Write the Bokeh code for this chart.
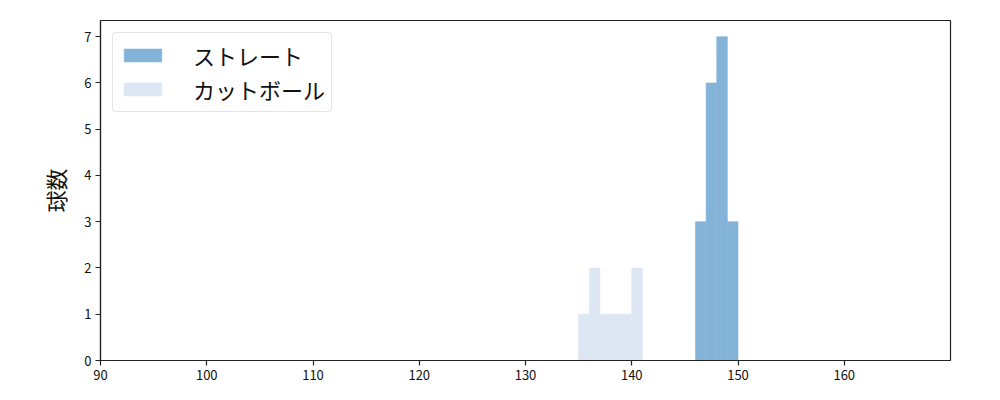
from bokeh.plotting import figure
from bokeh.models import Range1d, FixedTicker, Legend, LegendItem
from bokeh.embed import file_html
from bokeh.resources import INLINE

# data
straight_left = [146, 147, 148, 149]
straight_counts = [3, 6, 7, 3]
cutter_left = [135, 136, 137, 138, 139, 140]
cutter_counts = [1, 2, 1, 1, 1, 2]
bin_width = 1
x_ticks = [90, 100, 110, 120, 130, 140, 150, 160]
y_ticks = [0, 1, 2, 3, 4, 5, 6, 7]
series_names = ["ストレート", "カットボール"]
y_label = "球数"

FONT = "Noto Sans CJK JP"
C_STRAIGHT = "#84b3d8"
C_CUTTER = "#dce7f3"

p = figure(width=1000, height=400, output_backend="svg", toolbar_location=None,
           x_range=Range1d(90, 170), y_range=Range1d(0, 7.35),
           min_border_left=100, min_border_right=50, min_border_top=20, min_border_bottom=40)

r1 = p.quad(left=straight_left, right=[l + bin_width for l in straight_left],
            top=straight_counts, bottom=0, fill_color=C_STRAIGHT,
            line_color=C_STRAIGHT, line_width=0.6)
r2 = p.quad(left=cutter_left, right=[l + bin_width for l in cutter_left],
            top=cutter_counts, bottom=0, fill_color=C_CUTTER,
            line_color=C_CUTTER, line_width=0.6)

p.xgrid.visible = False
p.ygrid.visible = False
p.outline_line_color = "#222222"
p.outline_line_width = 1.2

for ax in (p.xaxis[0], p.yaxis[0]):
    ax.axis_line_color = "#222222"
    ax.axis_line_width = 1.2
    ax.major_tick_line_color = "#222222"
    ax.major_tick_line_width = 1.2
    ax.major_tick_out = 5
    ax.major_tick_in = 0
    ax.minor_tick_line_color = None
    ax.major_label_text_font = FONT
    ax.major_label_text_font_size = "13px"
    ax.major_label_text_color = "#111111"
    ax.major_label_standoff = 4

p.xaxis.ticker = FixedTicker(ticks=x_ticks)
p.yaxis.ticker = FixedTicker(ticks=y_ticks)
p.yaxis.axis_label = y_label
p.yaxis.axis_label_text_font = FONT
p.yaxis.axis_label_text_font_size = "22px"
p.yaxis.axis_label_text_font_style = "normal"
p.yaxis.axis_label_text_color = "#111111"
p.yaxis.axis_label_standoff = 10

legend = Legend(items=[LegendItem(label=series_names[0], renderers=[r1]),
                       LegendItem(label=series_names[1], renderers=[r2])],
                location="top_left")
legend.label_text_font = FONT
legend.label_text_font_size = "22px"
legend.label_text_color = "#111111"
legend.glyph_width = 47
legend.glyph_height = 16
legend.label_standoff = 27
legend.label_height = 20
legend.spacing = 2
legend.padding = 6
legend.margin = 12
legend.border_line_color = "#cccccc"
legend.border_radius = 4
legend.background_fill_alpha = 0.8
p.add_layout(legend)

open("out.html", "w").write(file_html(p, INLINE))
